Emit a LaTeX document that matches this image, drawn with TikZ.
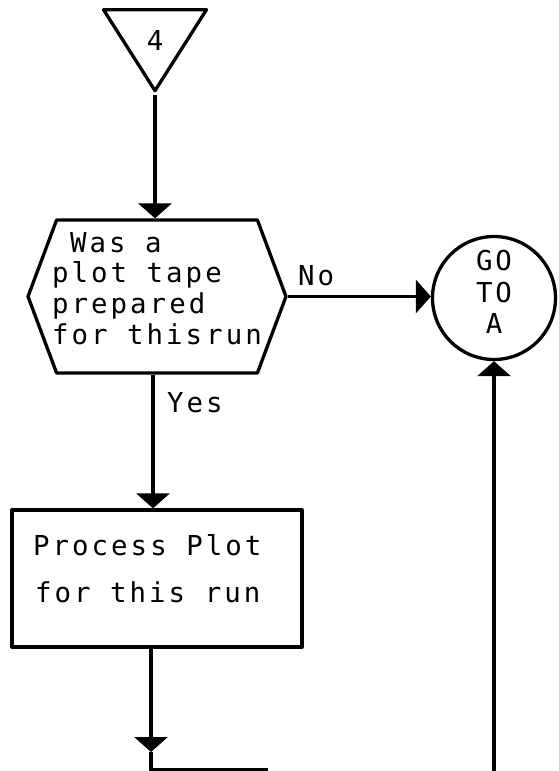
\documentclass[tikz,border=0pt]{standalone}
\usepackage{fontspec}
\newfontfamily\flowfont[LetterSpace=11]{DejaVu Sans Mono}
\usetikzlibrary{arrows.meta,shapes.geometric,shapes.symbols}
\begin{document}
\begin{tikzpicture}[x=1pt,y=-1pt,
  ln/.style={line width=3.3pt, line join=round},
  flow/.style={ln, -{Triangle[width=33pt,length=15pt]}},
  txt/.style={font={\flowfont\fontsize{27.4}{31}\selectfont}, inner sep=0pt, anchor=base west},
  txtc/.style={txt, anchor=base}]
\useasboundingbox (0,0) rectangle (558,771);
% shapes
\node[draw, ln, isosceles triangle, isosceles triangle stretches,
      shape border rotate=-90, minimum width=103, minimum height=81,
      inner sep=0pt, anchor=apex] (tri) at (155,95) {};
\node[draw, ln, signal, signal to=east and west, signal pointer angle=139,
      minimum width=258, minimum height=153, inner sep=0pt] (hex) at (157,296.5) {};
\node[draw, ln, rectangle, minimum width=290, minimum height=137, inner sep=0pt] (proc) at (157,578.5) {};
\node[draw, ln, circle, minimum size=123, inner sep=0pt] (goto) at (494,298) {};
% texts
\node[txtc] (t4) at (155,50) {4};
\node[txt] (h1) at (70,252) {Was a};
\node[txt] (h2) at (52,282) {plot tape};
\node[txt] (h3) at (52,313) {prepared};
\node[txt] (h4) at (52,344) {for this{\spaceskip=4pt\relax{} }run};
\node[txt] (p1) at (33,555) {Process Plot};
\node[txt] (p2) at (35,602) {for this run};
\node[txt] (yes) at (167,412) {Yes};
\node[txt] (no) at (298,285) {No};
\node[txtc] (g1) at (494,270) {GO};
\node[txtc] (g2) at (494,302) {TO};
\node[txtc] (g3) at (494,333) {A};
% connectors
\coordinate (b1) at (151,752);
\coordinate (b2) at (151,770);
\coordinate (b3) at (268,770);
\coordinate (r0) at (492,775);
\draw[flow] (tri.apex) -- (tri.apex |- hex.north);
\draw[flow] (hex.east) -- (hex.east -| goto.west);
\draw[flow] ([xshift=-4pt]hex.south) -- ([xshift=-4pt]proc.north);
\draw[flow] ([xshift=-6pt]proc.south) -- (b1);
\draw[ln] (b1) -- (b2) -- (b3);
\draw[flow] (goto.south |- r0) -- (goto.south);
\end{tikzpicture}
\end{document}
